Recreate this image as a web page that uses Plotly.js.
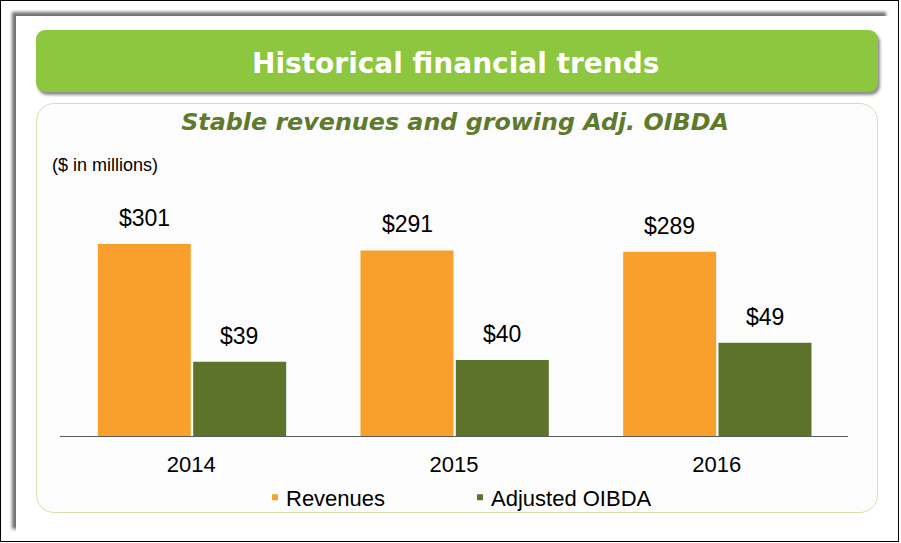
<!DOCTYPE html>
<html>
<head>
<meta charset="utf-8">
<script src="https://cdn.plot.ly/plotly-3.0.1.min.js"></script>
<style>
  html, body { margin: 0; padding: 0; background: #ffffff; }
  #wrap { position: relative; width: 901px; height: 543px; overflow: hidden; background: #fff; }
  #frame { position: absolute; left: 0; top: 0; width: 899px; height: 542px; border: 1px solid #000; box-sizing: border-box; }
  #card { position: absolute; left: 16px; top: 16px; width: 874px; height: 517px; background: #fff;
          box-shadow: -4px -4px 3px rgba(0,0,0,0.55); }
  #banner { position: absolute; left: 36px; top: 30px; width: 842px; height: 62px; background: #8DC63F;
            border-radius: 9px; box-shadow: 2px 3px 3px rgba(0,0,0,0.45); }
  #panel { position: absolute; left: 36px; top: 103px; width: 842px; height: 410px; background: #fcfcfc;
           border: 1.5px solid #d3e2ad; border-radius: 18px; box-sizing: border-box; }
  #chart { position: absolute; left: 0; top: 0; width: 901px; height: 543px; }
</style>
</head>
<body>
<div id="wrap">
  <div id="frame"></div>
  <div id="card"></div>
  <div id="banner"></div>
  <div id="panel"></div>
  <div id="chart"></div>
</div>
<script>
const years = ['2014', '2015', '2016'];
const revenues = [301, 291, 289];
const adjOibda = [39, 40, 49];
const seriesNames = ['Revenues', 'Adjusted OIBDA'];
const headerText = 'Historical financial trends';
const titleText = 'Stable revenues and growing Adj. OIBDA';
const unitText = '($ in millions)';

const ORANGE = '#F8A02B';
const GREEN = '#5D7329';
const FONT = '"Liberation Sans", Arial, sans-serif';
const HEAD_FONT = '"DejaVu Sans", Verdana, sans-serif';

const traces = [
  { type: 'bar', name: seriesNames[0], x: years, y: revenues, yaxis: 'y',
    width: 0.354, offset: -0.356, marker: { color: ORANGE, line: { width: 0 } }, hoverinfo: 'skip' },
  { type: 'bar', name: seriesNames[1], x: years, y: adjOibda, yaxis: 'y2',
    width: 0.354, offset: 0.007, marker: { color: GREEN, line: { width: 0 } }, hoverinfo: 'skip' }
];

const annotations = [];
years.forEach((yr, i) => {
  annotations.push({ x: i, y: revenues[i], xref: 'x', yref: 'y', text: '$' + revenues[i],
    showarrow: false, xshift: -47, yshift: 11, yanchor: 'bottom', xanchor: 'center',
    font: { family: FONT, size: 23, color: '#000' } });
  annotations.push({ x: i, y: adjOibda[i], xref: 'x', yref: 'y2', text: '$' + adjOibda[i],
    showarrow: false, xshift: 48, yshift: 11, yanchor: 'bottom', xanchor: 'center',
    font: { family: FONT, size: 23, color: '#000' } });
});
annotations.push({ xref: 'paper', yref: 'paper', x: (456 - 60) / 788, y: (436.5 - 63) / 256.5,
  text: '<b>' + headerText + '</b>', showarrow: false, xanchor: 'center', yanchor: 'middle',
  font: { family: HEAD_FONT, size: 28, color: '#fff' } });
annotations.push({ xref: 'paper', yref: 'paper', x: (50 - 60) / 788, y: (436.5 - 165) / 256.5,
  text: unitText, showarrow: false, xanchor: 'left', yanchor: 'middle',
  font: { family: FONT, size: 18, color: '#000' } });

const layout = {
  width: 901, height: 543,
  margin: { l: 60, r: 53, t: 180, b: 106.5, pad: 0 },
  paper_bgcolor: 'rgba(0,0,0,0)', plot_bgcolor: 'rgba(0,0,0,0)',
  font: { family: FONT, color: '#000' },
  title: { text: '<b><i>' + titleText + '</i></b>', x: 455 / 901, xanchor: 'center',
    xref: 'container', yref: 'container', y: 1 - 121.5 / 543, yanchor: 'middle',
    font: { family: HEAD_FONT, size: 23.8, color: '#5E7A2A' } },
  barmode: 'overlay',
  showlegend: true,
  legend: { orientation: 'h', x: (246 - 60) / 788, xanchor: 'left', y: (436.5 - 498) / 256.5, yanchor: 'middle',
    font: { family: FONT, size: 22, color: '#000' }, bgcolor: 'rgba(0,0,0,0)',
    entrywidth: 160, entrywidthmode: 'pixels', traceorder: 'normal' },
  xaxis: { type: 'category', range: [-0.5, 2.5], fixedrange: true, showgrid: false, zeroline: false,
    showline: true, linecolor: '#595959', linewidth: 1,
    ticks: 'outside', ticklen: 9, tickcolor: 'rgba(0,0,0,0)',
    tickfont: { family: FONT, size: 22, color: '#000' } },
  yaxis: { range: [0, 401.4], visible: false, fixedrange: true },
  yaxis2: { range: [0, 134.6], visible: false, overlaying: 'y', side: 'right', fixedrange: true },
  annotations: annotations
};

Plotly.newPlot('chart', traces, layout, { staticPlot: true, displayModeBar: false }).then(gd => {
  gd.querySelectorAll('.legendpoints path').forEach(p => {
    const t = p.getAttribute('transform') || '';
    p.setAttribute('transform', t + ' translate(9,0) scale(0.5)');
  });
});
</script>
</body>
</html>
